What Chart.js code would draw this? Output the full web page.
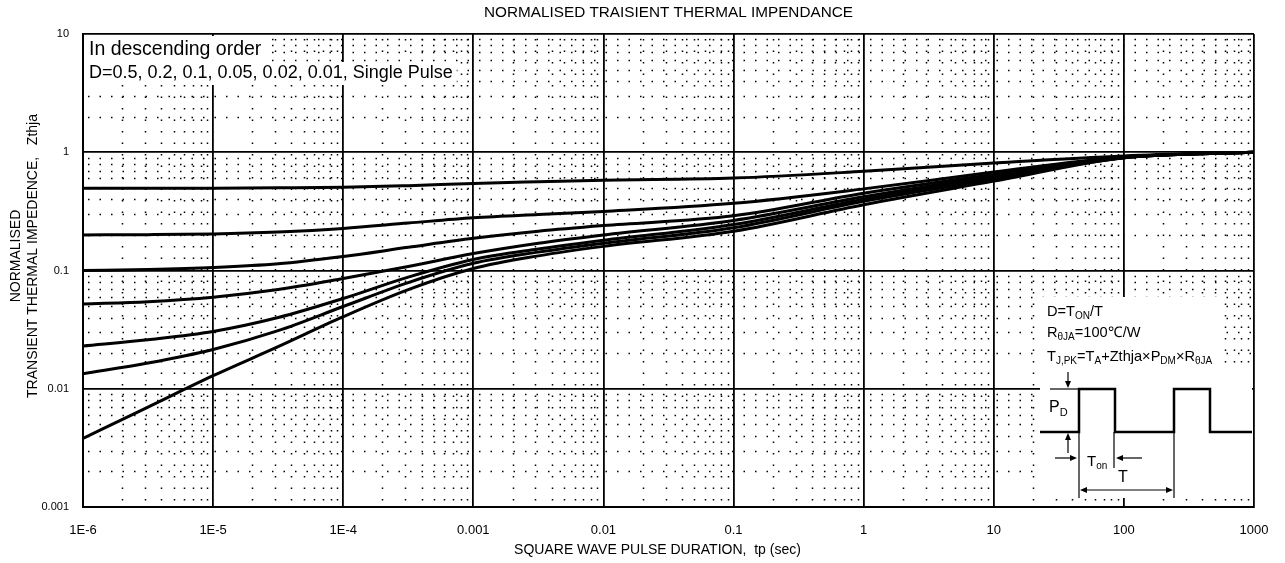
<!DOCTYPE html>
<html>
<head>
<meta charset="utf-8">
<title>Normalised transient thermal impedance</title>
<script src="https://cdn.jsdelivr.net/npm/chart.js@4.4.1/dist/chart.umd.min.js"></script>
<style>
  body { margin: 0; background: #fff; }
  #wrap { width: 1285px; height: 563px; position: relative; }
</style>
</head>
<body>
<div id="wrap"><canvas id="zth"></canvas></div>
<script>
// pulse duration tp (sec)
var tpValues = [1e-6, 3.16e-6, 1e-5, 3.16e-5, 1e-4, 3.16e-4, 1e-3, 3.16e-3, 1e-2, 1e-1, 1, 10, 100, 1000];

var zD05   = [0.495, 0.495, 0.497, 0.5, 0.505, 0.522, 0.545, 0.563, 0.58, 0.605, 0.69, 0.81, 0.93, 1.0];
var zD02   = [0.2, 0.201, 0.204, 0.212, 0.227, 0.252, 0.279, 0.298, 0.316, 0.37, 0.49, 0.68, 0.91, 1.0];
var zD01   = [0.1, 0.102, 0.106, 0.114, 0.1315, 0.157, 0.187, 0.215, 0.24, 0.29, 0.45, 0.65, 0.91, 1.0];
var zD005  = [0.052, 0.0545, 0.0595, 0.069, 0.0855, 0.108, 0.139, 0.17, 0.20, 0.265, 0.42, 0.63, 0.90, 1.0];
var zD002  = [0.023, 0.026, 0.0305, 0.040, 0.058, 0.088, 0.124, 0.152, 0.18, 0.245, 0.40, 0.61, 0.90, 1.0];
var zD001  = [0.0134, 0.0165, 0.0215, 0.031, 0.0496, 0.079, 0.115, 0.143, 0.17, 0.23, 0.385, 0.59, 0.90, 1.0];
var zSingle = [0.0038, 0.007, 0.0129, 0.0227, 0.0407, 0.069, 0.104, 0.133, 0.16, 0.215, 0.36, 0.57, 0.90, 1.0];

var seriesNames = ['D=0.5', 'D=0.2', 'D=0.1', 'D=0.05', 'D=0.02', 'D=0.01', 'Single Pulse'];
var seriesValues = [zD05, zD02, zD01, zD005, zD002, zD001, zSingle];

var xTickValues = [1e-6, 1e-5, 1e-4, 1e-3, 1e-2, 1e-1, 1, 10, 100, 1000];
var xTickLabels = ['1E-6', '1E-5', '1E-4', '0.001', '0.01', '0.1', '1', '10', '100', '1000'];
var yTickValues = [0.001, 0.01, 0.1, 1, 10];
var yTickLabels = ['0.001', '0.01', '0.1', '1', '10'];

var chartTitle = 'NORMALISED TRAISIENT THERMAL IMPENDANCE';
var xTitle = 'SQUARE WAVE PULSE DURATION,  tp (sec)';
var yTitle = ['NORMALISED', 'TRANSIENT THERMAL IMPEDENCE,   Zthja'];
var noteLines = ['In descending order', 'D=0.5, 0.2, 0.1, 0.05, 0.02, 0.01, Single Pulse'];

var FONT = '"Liberation Sans", Arial, sans-serif';

// text with subscripts: parts = [[text, isSub], ...]
function drawRich(ctx, x, y, parts, size) {
  parts.forEach(function (p) {
    var sub = p[1];
    ctx.font = (sub ? Math.round(size * 0.68) : size) + 'px ' + FONT;
    ctx.fillText(p[0], x, sub ? y + size * 0.3 : y);
    x += ctx.measureText(p[0]).width;
  });
  return x;
}

function arrowHead(ctx, x, y, dir) {
  // tip at (x, y)
  ctx.beginPath();
  ctx.moveTo(x, y);
  if (dir === 'down') { ctx.lineTo(x - 3, y - 7); ctx.lineTo(x + 3, y - 7); }
  if (dir === 'up') { ctx.lineTo(x - 3, y + 7); ctx.lineTo(x + 3, y + 7); }
  if (dir === 'right') { ctx.lineTo(x - 7, y - 3); ctx.lineTo(x - 7, y + 3); }
  if (dir === 'left') { ctx.lineTo(x + 7, y - 3); ctx.lineTo(x + 7, y + 3); }
  ctx.closePath();
  ctx.fill();
}

function line(ctx, x1, y1, x2, y2) {
  ctx.beginPath();
  ctx.moveTo(x1, y1);
  ctx.lineTo(x2, y2);
  ctx.stroke();
}

var decorPlugin = {
  id: 'decor',
  beforeDatasetsDraw: function (chart) {
    // dotted minor grid
    var ctx = chart.ctx, a = chart.chartArea;
    var xs = chart.scales.x, ys = chart.scales.y;
    ctx.save();
    ctx.strokeStyle = '#000';
    ctx.lineWidth = 1.5;
    ctx.setLineDash([1.5, 10]);
    xTickValues.slice(0, -1).forEach(function (d) {
      for (var m = 2; m <= 9; m++) {
        var px = Math.round(xs.getPixelForValue(m * d)) + 0.5;
        line(ctx, px, a.top + 5, px, a.bottom);
      }
    });
    yTickValues.slice(0, -1).forEach(function (d) {
      for (var m = 2; m <= 9; m++) {
        var py = Math.round(ys.getPixelForValue(m * d)) + 0.5;
        line(ctx, a.left + 5, py, a.right, py);
      }
    });
    ctx.restore();
  },
  afterDatasetsDraw: function (chart) {
    var ctx = chart.ctx, a = chart.chartArea;
    ctx.save();
    ctx.fillStyle = '#000';
    ctx.textBaseline = 'middle';

    // titles
    ctx.textAlign = 'center';
    ctx.font = '15.3px ' + FONT;
    ctx.fillText(chartTitle, (a.left + a.right) / 2, 13);
    ctx.font = '14px ' + FONT;
    ctx.fillText(xTitle, (a.left + a.right) / 2 - 11, 550);
    ctx.save();
    ctx.translate(16, 256);
    ctx.rotate(-Math.PI / 2);
    ctx.fillText(yTitle[0], 0, 0);
    ctx.fillText(yTitle[1], 0, 17);
    ctx.restore();

    // note at top left
    ctx.textAlign = 'left';
    ctx.font = '19.5px ' + FONT;
    var w1 = ctx.measureText(noteLines[0]).width;
    ctx.font = '18px ' + FONT;
    var w2 = ctx.measureText(noteLines[1]).width;
    ctx.fillStyle = '#fff';
    ctx.fillRect(a.left + 2, a.top + 2, w1 + 8, 26);
    ctx.fillRect(a.left + 2, a.top + 28, w2 + 8, 23);
    ctx.fillStyle = '#000';
    ctx.font = '19.5px ' + FONT;
    ctx.fillText(noteLines[0], a.left + 6, a.top + 16);
    ctx.font = '18px ' + FONT;
    ctx.fillText(noteLines[1], a.left + 6, a.top + 39);

    // inset with the formulas and pulse diagram
    var ox = a.right, oy = a.bottom;
    ctx.fillStyle = '#fff';
    ctx.fillRect(ox - 214, oy - 210, 182, 74);
    ctx.fillRect(ox - 214, oy - 137, 212, 128);
    ctx.fillStyle = '#000';
    drawRich(ctx, ox - 207, oy - 195, [['D=T', 0], ['ON', 1], ['/T', 0]], 14.6);
    drawRich(ctx, ox - 207, oy - 174, [['R', 0], ['\u03b8JA', 1], ['=100\u2103/W', 0]], 14.6);
    drawRich(ctx, ox - 207, oy - 150, [['T', 0], ['J,PK', 1], ['=T', 0], ['A', 1], ['+Zthja\u00d7P', 0], ['DM', 1], ['\u00d7R', 0], ['\u03b8JA', 1]], 14.6);

    var low = oy - 75, high = oy - 118;
    ctx.strokeStyle = '#000';
    ctx.lineWidth = 2.5;
    ctx.beginPath();
    ctx.moveTo(ox - 214, low);
    ctx.lineTo(ox - 175, low); ctx.lineTo(ox - 175, high);
    ctx.lineTo(ox - 139, high); ctx.lineTo(ox - 139, low);
    ctx.lineTo(ox - 80, low); ctx.lineTo(ox - 80, high);
    ctx.lineTo(ox - 44, high); ctx.lineTo(ox - 44, low);
    ctx.lineTo(ox - 2, low);
    ctx.stroke();

    ctx.lineWidth = 1.2;
    line(ctx, ox - 204, high, ox - 175, high);
    line(ctx, ox - 186, high - 17, ox - 186, high - 6);
    arrowHead(ctx, ox - 186, high - 1, 'down');
    line(ctx, ox - 186, low + 21, ox - 186, low + 6);
    arrowHead(ctx, ox - 186, low + 1, 'up');
    drawRich(ctx, ox - 205, oy - 99, [['P', 0], ['D', 1]], 16);

    line(ctx, ox - 175, low, ox - 175, oy - 9);
    line(ctx, ox - 140, low, ox - 140, oy - 39);
    line(ctx, ox - 80, low, ox - 80, oy - 9);
    line(ctx, ox - 199, oy - 49, ox - 182, oy - 49);
    arrowHead(ctx, ox - 177, oy - 49, 'right');
    line(ctx, ox - 112, oy - 49, ox - 131, oy - 49);
    arrowHead(ctx, ox - 138, oy - 49, 'left');
    drawRich(ctx, ox - 167, oy - 45, [['T', 0], ['on', 1]], 15);
    line(ctx, ox - 168, oy - 17, ox - 87, oy - 17);
    arrowHead(ctx, ox - 174, oy - 17, 'left');
    arrowHead(ctx, ox - 81, oy - 17, 'right');
    ctx.textAlign = 'center';
    ctx.font = '16px ' + FONT;
    ctx.fillText('T', ox - 131, oy - 29);
    ctx.restore();
  }
};

var datasets = seriesValues.map(function (vals, i) {
  return {
    label: seriesNames[i],
    data: tpValues.map(function (t, k) { return { x: t, y: vals[k] }; }),
    borderColor: '#000',
    borderWidth: 3,
    pointRadius: 0,
    fill: false,
    cubicInterpolationMode: 'monotone'
  };
});

var chart = new Chart(document.getElementById('zth'), {
  type: 'line',
  data: { datasets: datasets },
  plugins: [decorPlugin],
  options: {
    responsive: true,
    maintainAspectRatio: false,
    animation: false,
    layout: { padding: { top: 34, right: 31, left: 0, bottom: 0 } },
    plugins: {
      legend: { display: false },
      title: { display: false },
      tooltip: { enabled: false }
    },
    scales: {
      x: {
        type: 'logarithmic',
        min: 1e-6,
        max: 1000,
        afterBuildTicks: function (axis) {
          axis.ticks = xTickValues.map(function (v) { return { value: v }; });
        },
        afterFit: function (scale) { scale.height = 56; },
        ticks: {
          autoSkip: false,
          maxRotation: 0,
          padding: 16,
          color: '#000',
          font: { family: FONT, size: 13 },
          callback: function (value, index) { return xTickLabels[index]; }
        },
        grid: { color: '#000', lineWidth: 1.8, drawTicks: false },
        border: { color: '#000', width: 2 }
      },
      y: {
        type: 'logarithmic',
        min: 0.001,
        max: 10,
        afterBuildTicks: function (axis) {
          axis.ticks = yTickValues.map(function (v) { return { value: v }; });
        },
        afterFit: function (scale) { scale.width = 83; },
        ticks: {
          autoSkip: false,
          padding: 14,
          color: '#000',
          font: { family: FONT, size: 11 },
          callback: function (value, index) { return yTickLabels[index]; }
        },
        grid: { color: '#000', lineWidth: 1.8, drawTicks: false },
        border: { color: '#000', width: 2 }
      }
    }
  }
});
</script>
</body>
</html>
